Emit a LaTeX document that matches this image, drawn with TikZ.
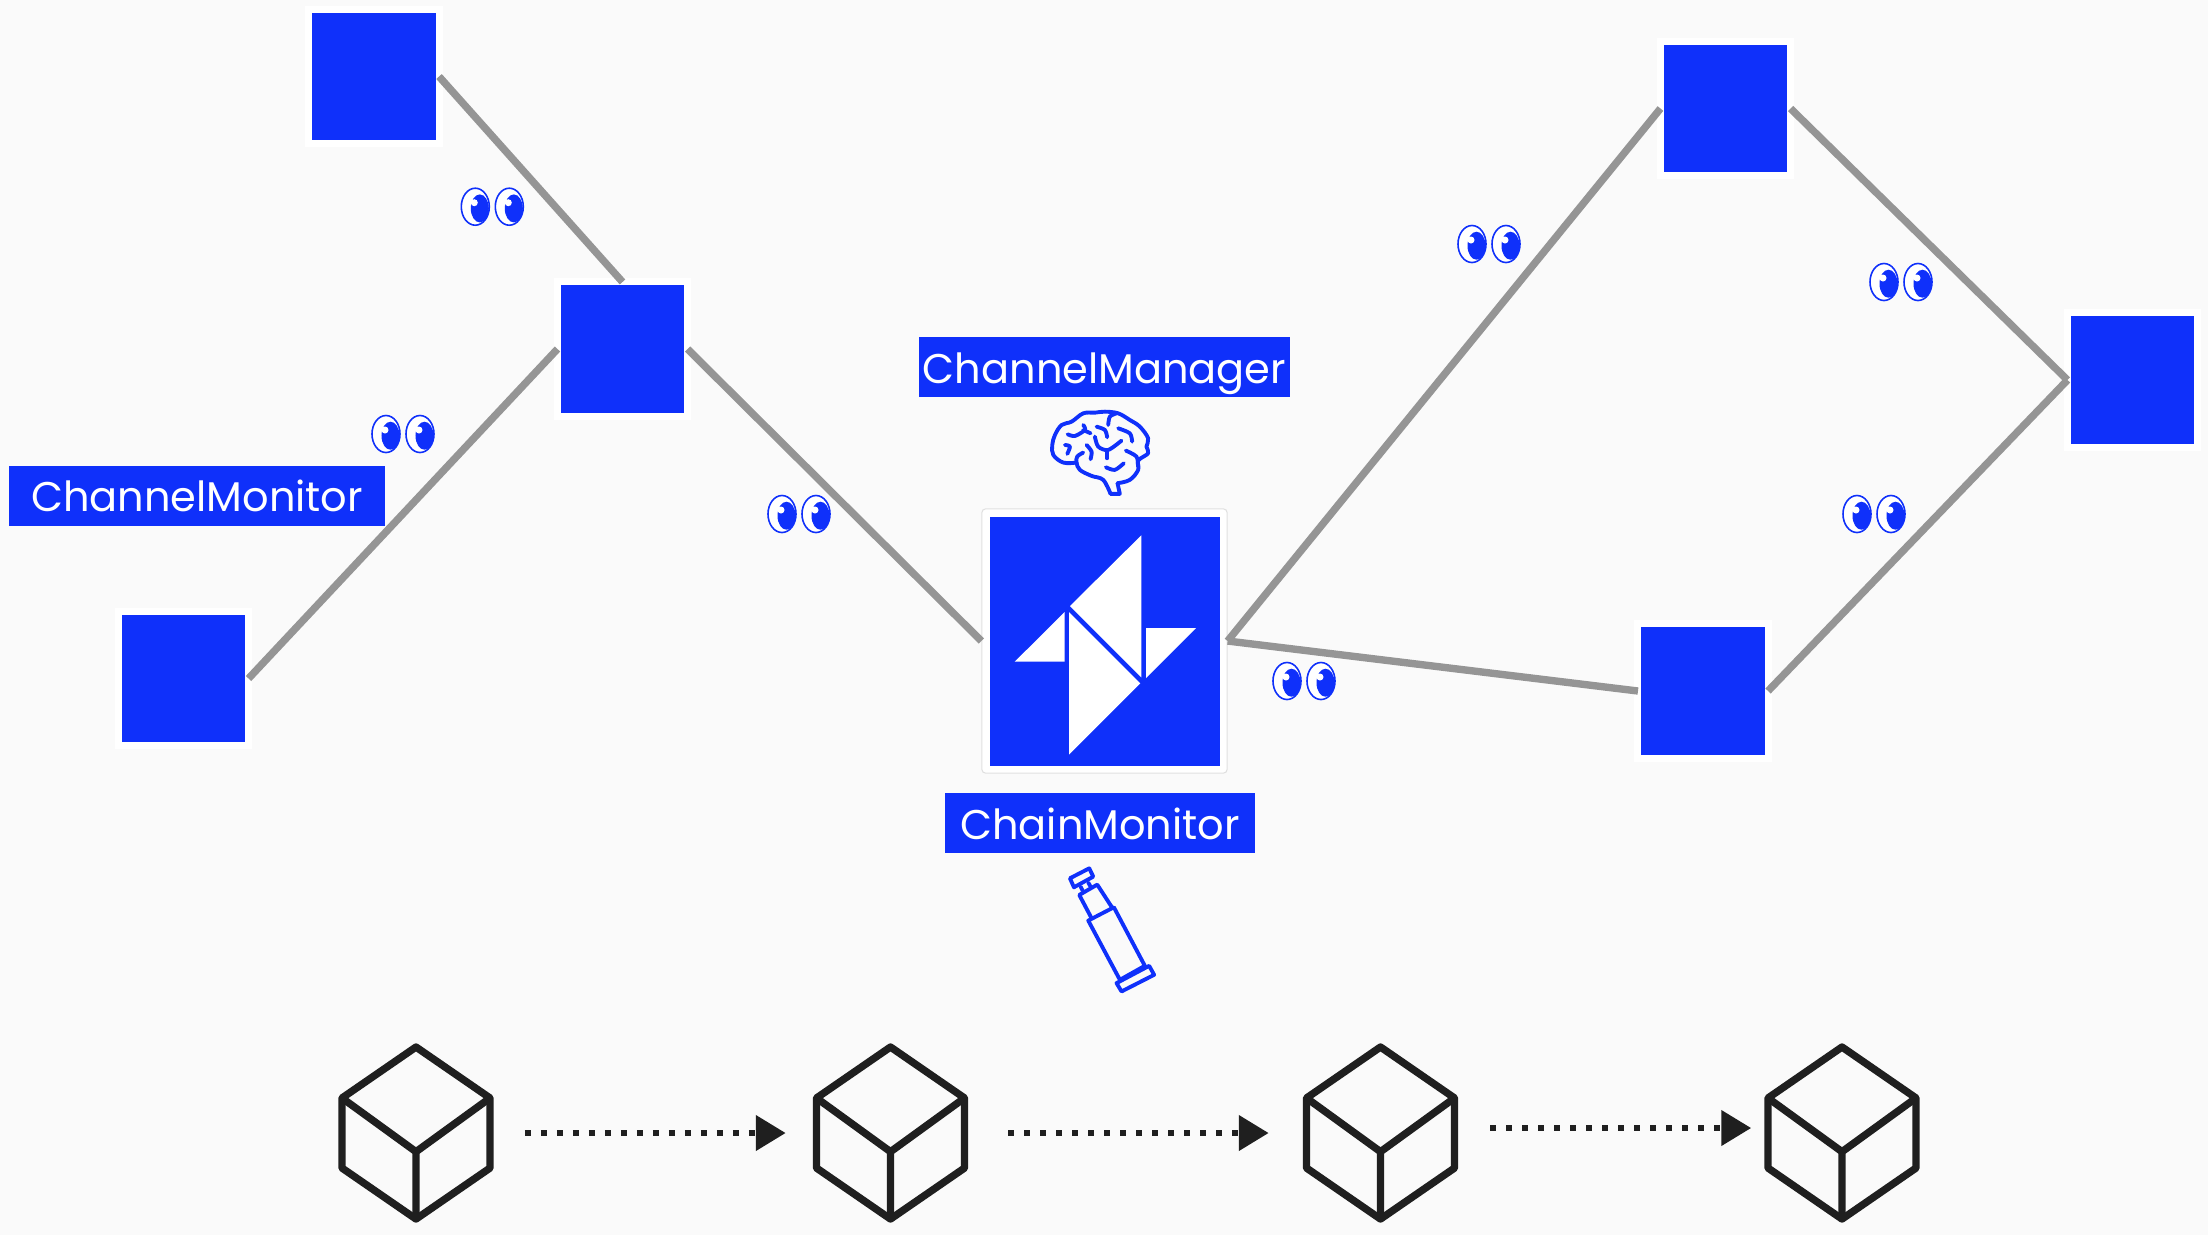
\documentclass[tikz,border=0pt]{standalone}
\usepackage{fontspec}
\setmainfont{Poppins}
\usepackage{xcolor}
\usetikzlibrary{arrows.meta, calc}
\definecolor{ldkblue}{HTML}{0F30FA}
\definecolor{ldkgray}{HTML}{959595}
\definecolor{ldkdark}{HTML}{1F1F1F}
\definecolor{ldkback}{HTML}{FAFAFA}
\tikzset{
  peernode/.style={fill=ldkblue, preaction={draw=white, line width=3.98pt}, minimum width=1.23cm, minimum height=1.27cm, inner sep=0pt, outer sep=0.035cm},
  titlenode/.style={fill=ldkblue, text=white, inner sep=0pt, minimum height=0.6cm, text height=0.32cm, text depth=0cm, font=\fontsize{11.8}{14}\selectfont},
  peerlink/.style={ldkgray, line width=2.1pt},
  iconline/.style={ldkblue, line width=1.1pt, line cap=round, line join=round},
  cubeline/.style={ldkdark, line width=2.1pt, line join=round},
  dotarrow/.style={ldkdark, line width=1.9pt, dash pattern=on 1.7pt off 2.85pt, -{Triangle[length=8.5pt,width=9.7pt]}},
  eyes/.pic={
    \foreach \ex in {-17,17} {
      \draw[ldkblue, fill=white, line width=0.45pt] (\ex,0) ellipse (0.14cm and 0.185cm);
      \fill[ldkblue] (\ex+4.5,1.7) ellipse (0.09cm and 0.14cm);
      \fill[white] (\ex-1,-4) circle (0.035cm);
    }
  }
}
\begin{document}
\begin{tikzpicture}[x=0.01cm, y=-0.01cm]
  \useasboundingbox (0,0) rectangle (2208,1235);
  \fill[ldkback] (0,0) rectangle (2208,1235);
  % Peers
  \node[peernode] (peerA) at (374,76.5) {};
  \node[peernode] (peerB) at (622.5,349) {};
  \node[peernode] (peerC) at (183.5,678.5) {};
  \node[peernode] (peerD) at (1725.5,108.5) {};
  \node[peernode] (peerE) at (2132.5,380) {};
  \node[peernode] (peerF) at (1703,691) {};
  % Central node with logo
  \node[fill=white, draw=black!12, line width=0.3pt, rounded corners=1pt, minimum width=2.45cm, minimum height=2.64cm, inner sep=0pt] (hub) at (1104.5,641) {};
  \fill[ldkblue] (990,517) rectangle (1220,766);
  \fill[white] (1141.3,535.3) -- (1070,606) -- (1141.3,677.3) -- cycle;
  \fill[white] (1064.7,612) -- (1014.7,661.7) -- (1064.7,661.7) -- cycle;
  \fill[white] (1069,612) -- (1140.3,683.3) -- (1069,754.7) -- cycle;
  \fill[white] (1146,628) -- (1196,628) -- (1146,678) -- cycle;
  % Links
  \draw[peerlink] (peerA.east) -- (peerB.north);
  \draw[peerlink] (peerB.west) -- (peerC.east);
  \draw[peerlink] (peerB.east) -- (hub.west);
  \draw[peerlink] (hub.east) -- (peerD.west);
  \draw[peerlink] (hub.east) -- (peerF.west);
  \draw[peerlink] (peerD.east) -- (peerE.west);
  \draw[peerlink] (peerF.east) -- (peerE.west);
  % Eyes on each link
  \foreach \px/\py in {492.3/206.7, 1489/244, 1901/282, 403/434, 799/514, 1874/514, 1304/681}
    \pic at (\px,\py) {eyes};
  % Labels
  \node[titlenode, minimum width=3.71cm] (managerlabel) at (1104.5,367) {ChannelManager};
  \node[titlenode, minimum width=3.1cm] (chainlabel) at (1100,823) {ChainMonitor};
  \node[titlenode, minimum width=3.75cm] (monitorlabel) at (197,495.5) {ChannelMonitor};
  % Brain
  \begin{scope}[shift={(1020,400)}, x=0.00333cm, y=-0.00333cm]
    \draw[iconline] plot[smooth, tension=0.6] coordinates {(293,250) (330,240) (355,210) (355,182) (385,160) (380,140) (385,115) (360,80) (330,60) (295,40) (255,35) (225,38) (190,40) (155,65) (125,75) (105,105) (97,135) (100,165) (130,188) (170,188)};
    \draw[iconline] plot[smooth, tension=0.6] coordinates {(190,158) (172,170) (170,188) (180,210) (215,228) (250,240) (272,282)};
    \draw[iconline] (272,282) -- (300,282) -- (293,250);
    \draw[iconline] plot[smooth] coordinates {(190,75) (195,90) (165,108) (143,103)};
    \draw[iconline] (190,90) -- (212,100);
    \draw[iconline] plot[smooth] coordinates {(230,80) (255,90) (262,112)};
    \draw[iconline] plot[smooth] coordinates {(225,110) (235,140) (265,150) (305,122)};
    \draw[iconline] (262,150) -- (262,175);
    \draw[iconline] plot[smooth] coordinates {(200,135) (215,155) (212,178)};
    \draw[iconline] plot[smooth] coordinates {(135,135) (150,140) (142,162)};
    \draw[iconline] plot[smooth] coordinates {(258,202) (285,210) (312,190)};
    \draw[iconline] plot[smooth] coordinates {(318,152) (350,170) (355,200)};
    \draw[iconline] plot[smooth] coordinates {(295,85) (330,100) (337,125)};
    \draw[iconline] plot[smooth] coordinates {(265,75) (270,50) (290,40)};
  \end{scope}
  % Telescope
  \begin{scope}[shift={(1040,850)}, x=0.00333cm, y=-0.00333cm]
    \draw[iconline] (90,85) -- (148,55) -- (160,80) -- (102,112) -- cycle;
    \draw[iconline] (122,110) -- (128,122) (145,98) -- (152,110);
    \draw[iconline] (118,135) -- (172,104) -- (218,175) (118,135) -- (155,205);
    \draw[iconline] (145,212) -- (222,172) -- (315,348) -- (240,390) -- cycle;
    \draw[iconline] (230,400) -- (328,348) -- (343,375) -- (245,425) -- cycle;
  \end{scope}
  % Blocks
  \foreach \bname/\bx in {blockA/416, blockB/890.5, blockC/1380.5, blockD/1842} {
    \node[minimum width=1.56cm, minimum height=1.82cm, inner sep=0pt] (\bname) at (\bx,1133) {};
    \draw[cubeline] (\bx,1047) -- ++(74,51) -- ++(0,70) -- ++(-74,51) -- ++(-74,-51) -- ++(0,-70) -- cycle;
    \draw[cubeline] (\bx-74,1098) -- (\bx,1151.7) -- (\bx+74,1098) (\bx,1151.7) -- (\bx,1219);
  }
  % Chain arrows
  \draw[dotarrow] ($(blockA.east)+(30,0)$) -- ($(blockB.west)+(-26,0)$);
  \draw[dotarrow] ($(blockB.east)+(39,0)$) -- ($(blockC.west)+(-33,0)$);
  \draw[dotarrow] ($(blockC.east)+(31,-5)$) -- ($(blockD.west)+(-12,-5)$);
\end{tikzpicture}
\end{document}
